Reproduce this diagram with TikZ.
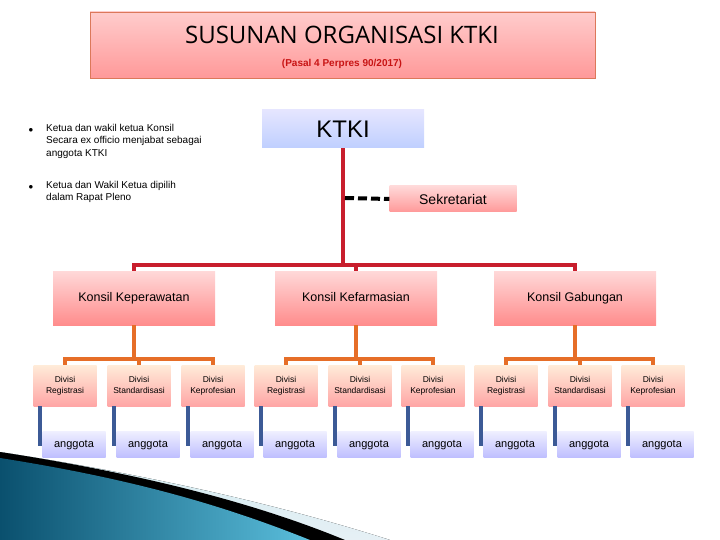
\documentclass[tikz,border=0pt]{standalone}
\usepackage{fontspec}
\setmainfont{Liberation Sans}
\newfontfamily\titlefont{Open Sans}
\begin{document}
\begin{tikzpicture}[x=1pt,y=-1pt,
  konsil/.style={top color=red!15,bottom color=red!45!white,draw=none,minimum width=162pt,minimum height=54pt,text height=1.6ex,text depth=.4ex,font=\fontsize{12.5}{15}\selectfont},
  divisi/.style={top color=orange!15,bottom color=red!35!white,draw=none,minimum width=63pt,minimum height=41pt,align=center,font=\fontsize{8.5}{11}\selectfont},
  angg/.style={top color=blue!6,bottom color=blue!25!white,draw=none,minimum width=63pt,minimum height=26pt,text height=1.6ex,text depth=.4ex,font=\fontsize{11}{13}\selectfont},
  redl/.style={draw={rgb,255:red,200;green,30;blue,45},line width=4pt},
  orl/.style={draw={rgb,255:red,230;green,110;blue,40},line width=4pt},
  bll/.style={draw={rgb,255:red,60;green,90;blue,150},line width=4pt}]
\useasboundingbox (0,0) rectangle (720,540);
% swoosh
\fill[top color={rgb,255:red,210;green,235;blue,240},bottom color={rgb,255:red,230;green,240;blue,245}] (0,452) .. controls (150,475) and (280,505) .. (390,540) -- (0,540) -- cycle;
\fill[black] (0,452) .. controls (150,475) and (260,505) .. (345,540) -- (0,540) -- cycle;
\fill[left color={rgb,255:red,10;green,80;blue,110},right color={rgb,255:red,90;green,190;blue,220}] (0,458) .. controls (140,480) and (230,508) .. (310,540) -- (0,540) -- cycle;
% title
\node[draw={rgb,255:red,220;green,120;blue,90},top color=red!20,bottom color=red!40!white,minimum width=505pt,minimum height=66pt] (title) at (342.5,45) {};
\node[font=\titlefont\fontsize{24}{28}\selectfont] (tt) at (342,35) {SUSUNAN ORGANISASI KTKI};
\node[font=\bfseries\fontsize{10}{12}\selectfont,text={rgb,255:red,200;green,20;blue,20}] (st) at (342,64) {(Pasal 4 Perpres 90/2017)};
% bullets
\node[font=\fontsize{9}{11}\selectfont] (b1) at (31,130) {$\bullet$};
\node[font=\fontsize{9}{11}\selectfont] (b2) at (31,187) {$\bullet$};
\node[anchor=north west,align=left,font=\fontsize{10}{12.5}\selectfont,inner sep=0] (t1) at (46,124) {Ketua dan wakil ketua Konsil\\Secara ex officio menjabat sebagai\\anggota KTKI};
\node[anchor=north west,align=left,font=\fontsize{10}{12.5}\selectfont,inner sep=0] (t2) at (46,181) {Ketua dan Wakil Ketua dipilih\\dalam Rapat Pleno};
% KTKI
\node[top color=blue!10,bottom color=cyan!25!blue!25,minimum width=162pt,minimum height=38pt,font=\fontsize{24}{28}\selectfont] (ktki) at (343,129) {KTKI};
\node[top color=red!15,bottom color=red!40!white,minimum width=127pt,minimum height=26pt,font=\fontsize{14}{16}\selectfont] (sek) at (453,199) {Sekretariat};
\coordinate (j) at (343,265);
\draw[redl] (ktki.south) -- (j);
\draw[line width=4pt,dash pattern=on 9pt off 4pt] (345,198) -- (sek.west);
% konsil
\node[konsil] (k1) at (134,298) {Konsil Keperawatan};
\node[konsil] (k2) at (356,298) {Konsil Kefarmasian};
\node[konsil] (k3) at (575,298) {Konsil Gabungan};
\draw[redl] (k1.north) -- ++(0,-6) -| (k3.north);
\draw[redl] (k2.north) -- ++(0,-6);
% divisi
\foreach \k/\a/\b/\c in {1/65/139/213,2/286/360/433,3/506/580/653}{
  \node[divisi] (d\k a) at (\a,385.5) {Divisi\strut\\Registrasi\strut};
  \node[divisi] (d\k b) at (\b,385.5) {Divisi\strut\\Standardisasi\strut};
  \node[divisi] (d\k c) at (\c,385.5) {Divisi\strut\\Keprofesian\strut};
  \draw[orl] (k\k.south) -- ++(0,35);
  \draw[orl] (d\k a.north) -- ++(0,-6) -| (d\k c.north);
  \draw[orl] (d\k b.north) -- ++(0,-6);
  \foreach \d/\x in {a/\a,b/\b,c/\c}{
    \node[angg] (g\k\d) at (\x+9,444) {anggota};
    \draw[bll] ([xshift=7pt]d\k\d.south west) |- (g\k\d.west);
  }
}
\end{tikzpicture}
\end{document}
